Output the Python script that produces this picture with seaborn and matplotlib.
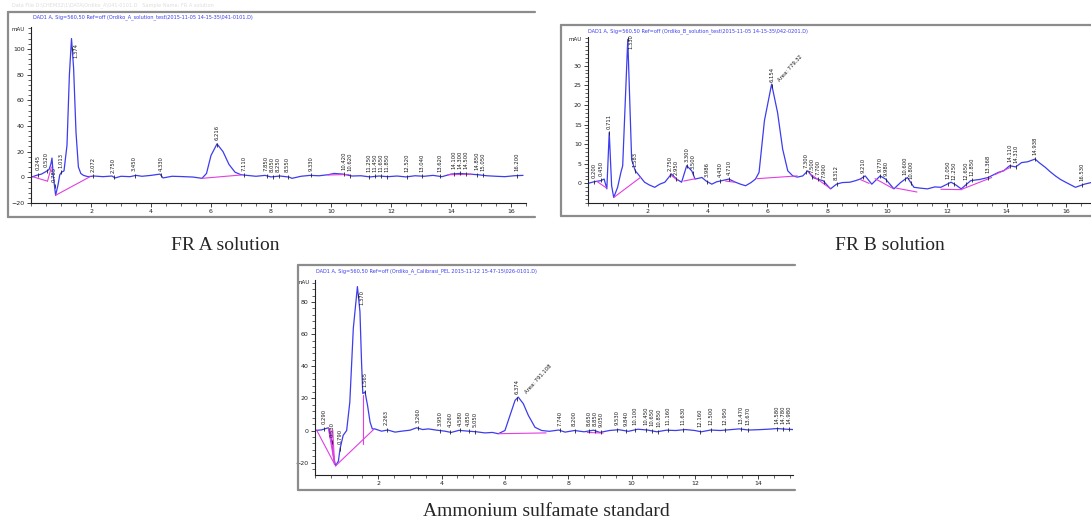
import numpy as np
import seaborn as sns
import matplotlib.pyplot as plt
import matplotlib.lines as mlines
from matplotlib.ticker import MultipleLocator

sns.set_style("white")

W, H = 1091, 524

# ---- FR A solution ----
a_time = [0.0, 0.18, 0.35, 0.5, 0.6, 0.66, 0.7, 0.74, 0.82, 0.9, 0.96, 1.02, 1.1, 1.2, 1.28,
          1.35, 1.42, 1.5, 1.58, 1.66, 1.75, 1.9, 2.1, 2.4, 2.7, 2.8, 3.0, 3.3, 3.5, 3.7, 4.0,
          4.3, 4.4, 4.7, 5.0, 5.4, 5.7, 5.85, 6.0, 6.2, 6.4, 6.6, 6.8, 7.0, 7.2, 7.5, 7.8, 8.0,
          8.3, 8.6, 8.7, 9.0, 9.3, 9.6, 9.9, 10.1, 10.4, 10.7, 11.0, 11.3, 11.6, 11.9, 12.2,
          12.5, 12.8, 13.1, 13.4, 13.7, 14.0, 14.3, 14.6, 14.9, 15.2, 15.5, 15.8, 16.1, 16.4]
a_mau = [0, 1.5, 2.5, 4.5, 6, 10, 15, 2, -14, -6, 2, 4, 5, 25, 80,
         108, 85, 35, 8, 3, 1.5, 0.5, 1, 0.5, 1, -0.5, 0.8, 0.5, 1.5, 0.8, 1.5,
         2.5, -0.5, 0.8, 0.6, 0.2, -0.8, 3, 17, 26, 20, 10, 4, 2, 1.5, 0.8, 1.5, 0.3,
         1, 0.2, -0.8, 0.8, 1.5, 1.2, 2, 3, 2.5, 1, 1.2, 0.3, 1, 0.5, 1,
         0.3, 1.2, 0.8, 1.5, 0.5, 2.5, 3, 2.5, 2, 1.2, 0.8, 0.5, 1.2, 1.5]
a_base = [[(0.08, 0.3), (0.55, -3)], [(0.55, -3), (0.68, 8)], [(0.82, -14), (1.97, 0.5)],
          [(5.7, -0.8), (7.0, 1.8)], [(9.9, 1.8), (10.6, 2.2)], [(13.9, 2.0), (14.7, 2.4)]]
a_peaks = [0.245, 0.52, 0.785, 1.013, 1.374, 2.072, 2.75, 3.45, 4.33, 6.216, 7.11,
           7.85, 8.05, 8.25, 8.55, 9.33, 10.42, 10.62, 11.25, 11.45, 11.65, 11.85,
           12.52, 13.04, 13.62, 14.1, 14.3, 14.5, 14.85, 15.05, 16.2]
a_yticks = [-20, 0, 20, 40, 60, 80, 100]

# ---- FR B solution ----
b_time = [0.0, 0.2, 0.43, 0.54, 0.63, 0.71, 0.79, 0.86, 0.99, 1.1, 1.16, 1.33, 1.46, 1.58,
          1.67, 1.89, 2.05, 2.23, 2.4, 2.57, 2.79, 2.96, 3.13, 3.3, 3.47, 3.58, 3.81, 3.95,
          4.14, 4.3, 4.48, 4.71, 4.93, 5.1, 5.27, 5.45, 5.6, 5.72, 5.9, 6.14, 6.34, 6.51,
          6.68, 6.85, 7.0, 7.18, 7.35, 7.52, 7.7, 7.86, 8.11, 8.31, 8.5, 8.76, 8.95, 9.1,
          9.27, 9.49, 9.77, 9.95, 10.23, 10.45, 10.68, 10.9, 11.1, 11.35, 11.6, 11.8, 12.14,
          12.3, 12.48, 12.8, 13.1, 13.38, 13.72, 13.9, 14.1, 14.3, 14.5, 14.7, 14.95, 15.1,
          15.29, 15.45, 15.63, 15.8, 15.97, 16.3, 16.6, 16.82]
b_mau = [0, 0.4, 0.7, 1.1, -1.4, 13, -0.6, -3.6, -1, 2.8, 4.5, 36.7, 6, 3.2,
         2.4, 0.3, -0.4, -1, -0.2, 0.3, 2.4, 1.1, 0.3, 4.5, 3.2, 1.1, 1.5, 0.6,
         -0.2, 0.4, 0.7, 1.1, 0.3, -0.2, -0.6, 0.2, 1.1, 2.8, 16, 25.3, 18, 8.7,
         3.2, 1.9, 1.6, 1.9, 3.2, 1.5, 1.0, 0.7, -1.4, -0.2, 0.2, 0.3, 0.7, 1.1,
         1.9, -0.2, 1.9, 1.1, -1.4, 0.2, 1.5, -1, -1.2, -1.4, -0.9, -1, 0.3,
         -0.4, -1.4, 0.7, 1.0, 1.5, 2.8, 3.2, 4.5, 4.2, 5.3, 5.5, 6.2, 5.2,
         4.1, 3.0, 1.9, 1.0, 0.3, -1, -0.2, 0.2]
b_base = [[(0.3, 0.5), (0.62, -1.2)], [(0.86, -3.6), (1.75, 1.5)], [(2.75, 2.2), (3.0, 0.8)],
          [(3.2, 0.6), (3.6, 1.2)], [(4.6, 0.6), (4.9, 0.3)], [(5.65, 1.2), (7.0, 1.9)],
          [(7.4, 2.6), (8.1, -1.3)], [(9.1, 1.0), (9.4, 0.0)], [(9.6, 1.2), (10.2, -1.3)],
          [(10.3, -1.2), (11.0, -2.2)], [(11.8, -1.5), (12.5, -1.6)], [(12.5, -1.5), (13.5, 1.5)],
          [(13.6, 2.2), (14.1, 4.0)]]
b_peaks = [0.2, 0.45, 0.711, 1.33, 1.583, 2.75, 2.95, 3.3, 3.5, 3.986, 4.43, 4.71, 6.154,
           7.3, 7.5, 7.7, 7.9, 8.312, 9.21, 9.77, 9.98, 10.6, 10.8, 12.05, 12.25, 12.65,
           12.85, 13.368, 14.11, 14.31, 14.938, 16.53]
b_yticks = [0, 5, 10, 15, 20, 25, 30]
b_area = "Area: 779.32"

# ---- Ammonium sulfamate standard ----
c_time = [0.0, 0.21, 0.42, 0.47, 0.53, 0.58, 0.65, 0.74, 0.79, 0.89, 1.0, 1.1, 1.21, 1.34,
          1.42, 1.47, 1.51, 1.58, 1.66, 1.74, 1.81, 1.89, 2.1, 2.3, 2.53, 2.74, 3.0, 3.21,
          3.4, 3.58, 3.85, 4.1, 4.3, 4.55, 4.84, 5.1, 5.37, 5.6, 5.79, 6.0, 6.16, 6.32, 6.42,
          6.58, 6.74, 6.95, 7.16, 7.4, 7.7, 7.9, 8.2, 8.5, 8.8, 9.0, 9.3, 9.6, 9.9, 10.2,
          10.5, 10.8, 11.1, 11.4, 11.7, 12.0, 12.2, 12.5, 12.8, 13.1, 13.4, 13.7, 14.0, 14.3,
          14.6, 14.9, 15.1]
c_mau = [0, 0.4, 1.7, -1, -7, -15.6, -22, -19, -11.5, -3, 0, 17.7, 63.5, 89.6,
         74, 42.7, 23, 24, 15.6, 5.2, 1, 1, -0.4, 0.3, -1, -0.4, 0.2, 1.7,
         0.6, 1, 0.2, -0.4, -1.2, 0.1, -0.4, -0.8, -1.5, -1.2, -2, 0, 9.4, 18.8, 20.8,
         16.7, 9.4, 2, 0, -0.5, 0.3, -1, 0, -0.8, 0.2, -1.2, 0, 0.5, -0.5, 0.8,
         0.3, -0.8, 0.2, 0, 0.6, 0, -0.8, 0.3, 0, 0.5, 1, 0.3, 0.5, 0.8,
         1.2, 0.8, 0.6]
c_base = [[(0.05, 0.3), (0.62, -21)], [(0.42, 1.5), (0.62, -21)], [(0.5, 0.5), (0.62, -21)],
          [(0.56, 0.3), (0.62, -21)], [(0.65, -22), (1.85, 0.6)], [(1.52, 22), (1.52, -8.5)],
          [(5.8, -2), (7.3, -1.5)], [(8.6, -1.2), (9.1, -1.6)]]
c_peaks = [0.29, 0.53, 0.79, 1.37, 1.565, 2.263, 3.26, 3.95, 4.26, 4.58, 4.85, 5.05, 6.374,
           7.74, 8.2, 8.65, 8.85, 9.05, 9.53, 9.84, 10.1, 10.45, 10.65, 10.85, 11.16, 11.63,
           12.16, 12.5, 12.95, 13.47, 13.67, 14.58, 14.78, 14.98]
c_yticks = [-20, 0, 20, 40, 60, 80]
c_area = "Area: 791.108"

titles = [
    "DAD1 A, Sig=560,50 Ref=off (Ordiko_A_solution_test\\2015-11-05 14-15-35\\041-0101.D)",
    "DAD1 A, Sig=560,50 Ref=off (Ordiko_B_solution_test\\2015-11-05 14-15-35\\042-0201.D)",
    "DAD1 A, Sig=560,50 Ref=off (Ordiko_A_Calibrasi_PEL 2015-11-12 15-47-15\\026-0101.D)",
]
captions = ["FR A solution", "FR B solution", "Ammonium sulfamate standard"]

BLUE = "#3c3cf0"
MAGENTA = "#e23ee2"
FRAME = "#8c8c8c"

fig = plt.figure(figsize=(W / 100, H / 100), dpi=100)


def px_axes(left, right, top, bottom):
    return fig.add_axes([left / W, 1 - bottom / H, (right - left) / W, (bottom - top) / H])


def frame(left, right, top, bottom):
    pts = [(left, top), (right, top)], [(left, bottom), (right, bottom)], [(left, top), (left, bottom)]
    for (x0, y0), (x1, y1) in pts:
        fig.add_artist(mlines.Line2D([x0 / W, x1 / W], [1 - y0 / H, 1 - y1 / H],
                                     color=FRAME, lw=1.6, transform=fig.transFigure))


def panel(ax, t, v, bases, peaks, xlim, ylim, yticks, ymin_, area=None):
    sns.lineplot(x=t, y=v, ax=ax, color=BLUE, lw=0.9, estimator=None, sort=False)
    for (x0, y0), (x1, y1) in bases:
        ax.plot([x0, x1], [y0, y1], color=MAGENTA, lw=0.8)
    span = ylim[1] - ylim[0]
    for p in peaks:
        y = np.interp(p, t, v)
        ax.plot([p], [y], marker="|", ms=3, mew=0.6, color="#222222")
        if y > ylim[0] + 0.8 * span:
            # tall peak: the label runs down beside the apex
            ax.text(p + 0.12, y + 0.03 * span, f"{p:.3f}", rotation=90, fontsize=3.8,
                    color="#1a1a1a", ha="center", va="top")
        else:
            ax.text(p, y + 0.025 * span, f"{p:.3f}", rotation=90, fontsize=3.8,
                    color="#1a1a1a", ha="center", va="bottom", clip_on=False)
    if area is not None:
        i = int(np.argmax(v[30:50])) + 30
        ax.text(t[i] + 0.3, v[i] + 0.01 * span, area, rotation=48, fontsize=3.8,
                color="#1a1a1a", ha="left", va="bottom", rotation_mode="anchor")
    ax.set_xlim(*xlim)
    ax.set_ylim(*ylim)
    ax.xaxis.set_major_locator(MultipleLocator(2))
    ax.xaxis.set_minor_locator(MultipleLocator(0.5))
    ax.set_yticks(yticks)
    ax.yaxis.set_minor_locator(MultipleLocator(ymin_))
    ax.set_xticks([x for x in ax.get_xticks() if 0 < x <= xlim[1]])
    ax.tick_params(which="major", direction="out", length=3, width=0.6, labelsize=4.5,
                   colors="#222222", pad=1.5, bottom=True, left=True)
    ax.tick_params(which="minor", direction="out", length=2, width=0.5, bottom=True, left=True)
    for s in ["top", "right"]:
        ax.spines[s].set_visible(False)
    for s in ["left", "bottom"]:
        ax.spines[s].set_linewidth(0.8)
        ax.spines[s].set_color("#222222")
    ax.patch.set_alpha(0)
    ax.set_xlabel("")
    ax.set_ylabel("")
    ax.text(-0.012, 1.0, "mAU", transform=ax.transAxes, fontsize=4, ha="right", va="top",
            color="#222222")


# panel A
frame(8, 535, 12, 217)
axA = px_axes(31, 526, 27, 203)
panel(axA, a_time, a_mau, a_base, a_peaks, (0, 16.5), (-20, 117), a_yticks, 4)
fig.text(33 / W, 1 - 17 / H, titles[0], fontsize=3.6, color=BLUE, ha="left", va="center")
fig.text(12 / W, 1 - 5 / H, "Data File D:\\CHEM32\\1\\DATA\\Ordiko_A\\041-0101.D   Sample Name: FR A solution",
         fontsize=3.6, color="#dddddd", ha="left", va="center")

# panel B
frame(561, 1095, 25, 216)
axB = px_axes(588, 1091, 37, 203)
panel(axB, b_time, b_mau, b_base, b_peaks, (0, 16.82), (-5, 37.3), b_yticks, 1, b_area)
fig.text(588 / W, 1 - 31 / H, titles[1], fontsize=3.6, color=BLUE, ha="left", va="center")

# panel C
frame(298, 795, 265, 490)
axC = px_axes(315, 793, 280, 475)
panel(axC, c_time, c_mau, c_base, c_peaks, (0, 15.1), (-27.7, 93.7), c_yticks, 4, c_area)
fig.text(316 / W, 1 - 271 / H, titles[2], fontsize=3.6, color=BLUE, ha="left", va="center")

serif = ["Liberation Serif", "DejaVu Serif"]
fig.text(225 / W, 1 - 245 / H, captions[0], family=serif, fontsize=14, ha="center", va="center")
fig.text(890 / W, 1 - 245 / H, captions[1], family=serif, fontsize=14, ha="center", va="center")
fig.text(546 / W, 1 - 512 / H, captions[2], family=serif, fontsize=14, ha="center", va="center")

fig.savefig("out.png", dpi=100)
